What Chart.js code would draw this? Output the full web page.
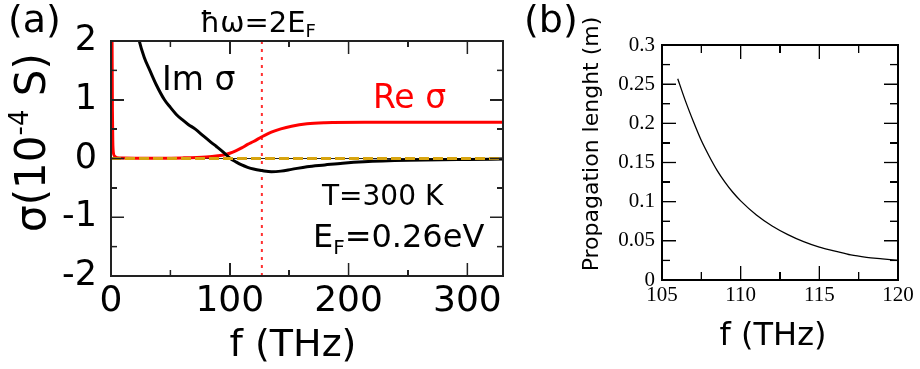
<!DOCTYPE html>
<html><head><meta charset="utf-8">
<script src="https://cdn.jsdelivr.net/npm/chart.js@4/dist/chart.umd.min.js"></script>
<style>html,body{margin:0;padding:0;background:#fff;overflow:hidden;width:920px;height:369px;position:relative}canvas{position:absolute;top:0}</style>
</head><body>
<canvas id="ca" width="515" height="369" style="left:0"></canvas>
<canvas id="cb" width="405" height="369" style="left:515px"></canvas>
<script>
// ---------- Panel (a): optical conductivity of graphene ----------
const reF = [0, 0.6, 0.9, 1.2, 1.5, 2, 3, 5, 10, 20, 40, 60, 80, 90, 96, 100, 105, 110, 115, 120, 127, 135, 143, 152, 165, 180, 213, 250, 300, 330];
const reS = [6, 4, 2.0, 0.8, 0.3, 0.1, 0.04, 0.015, 0.008, 0.006, 0.006, 0.01, 0.025, 0.045, 0.065, 0.09, 0.13, 0.18, 0.24, 0.29, 0.37, 0.45, 0.505, 0.55, 0.59, 0.607, 0.615, 0.615, 0.615, 0.615];
const imF = [15, 18, 20, 23.8, 28, 32.7, 38, 45, 50, 55, 60, 65, 71, 78, 84, 89, 95, 100.5, 105, 110, 115, 120, 127, 135, 143, 152, 165, 180, 195, 213, 250, 300, 330];
const imS = [3.2, 2.7, 2.4, 2.0, 1.72, 1.5, 1.26, 1.0, 0.87, 0.75, 0.66, 0.58, 0.5, 0.38, 0.28, 0.2, 0.1, 0.0, -0.055, -0.11, -0.15, -0.18, -0.205, -0.225, -0.215, -0.185, -0.14, -0.11, -0.08, -0.055, -0.03, -0.015, -0.01];
const zeroF = [0, 330];
const zeroS = [0, 0];
const fTwoEF = 127;          // f where ħω = 2E_F
const aXTicks = [0, 100, 200, 300];
const aYTicks = [-2, -1, 0, 1, 2];

// ---------- Panel (b): propagation length ----------
const plF = [106, 106.5, 107, 107.5, 108, 108.5, 109, 109.5, 110, 111, 112, 113, 114, 115, 116, 117, 118, 119, 120];
const plL = [0.257, 0.228, 0.202, 0.178, 0.158, 0.14, 0.125, 0.112, 0.101, 0.083, 0.069, 0.058, 0.049, 0.042, 0.037, 0.032, 0.029, 0.027, 0.025];
const bXTicks = [105, 110, 115, 120];
const bYTicks = [0, 0.05, 0.1, 0.15, 0.2, 0.25, 0.3];

const pts = (xs, ys) => xs.map((x, i) => ({x, y: ys[i]}));

function drawRich(ctx, parts, x, y, align, family, rot) {
  ctx.save();
  ctx.translate(x, y);
  if (rot) ctx.rotate(rot);
  let total = 0;
  parts.forEach(p => { ctx.font = p.size + 'px ' + family; p.w = ctx.measureText(p.t).width; total += p.w; });
  let cx = align === 'center' ? -total / 2 : (align === 'right' ? -total : 0);
  ctx.textAlign = 'left'; ctx.textBaseline = 'alphabetic';
  parts.forEach(p => {
    ctx.font = p.size + 'px ' + family;
    ctx.fillStyle = p.color || '#000';
    ctx.fillText(p.t, cx, p.dy || 0);
    cx += p.w;
  });
  ctx.restore();
}

// collects frame + inward tick rectangles (in canvas pixels) from the chart's own scales
function frameRects(chart, o) {
  const a = chart.chartArea, x = chart.scales.x, y = chart.scales.y, out = [];
  const tw = o.tickWidth, fw = o.frameWidth;
  const isMaj = (v, m, b) => Math.abs((v - b) / m - Math.round((v - b) / m)) < 1e-6;
  for (let i = 0; i < 1000; i++) {
    const v = x.min + i * o.xMinor;
    if (v > x.max + 1e-9) break;
    const len = isMaj(v, o.xMajor, x.min) ? o.major : o.minor;
    const px = x.getPixelForValue(v);
    out.push([px - tw / 2, a.bottom - len, tw, len], [px - tw / 2, a.top, tw, len]);
  }
  for (let i = 0; i < 1000; i++) {
    const v = y.min + i * o.yMinor;
    if (v > y.max + 1e-9) break;
    const len = isMaj(v, o.yMajor, y.min) ? o.major : o.minor;
    const py = y.getPixelForValue(v);
    out.push([a.left, py - tw / 2, len, tw], [a.right - len, py - tw / 2, len, tw]);
  }
  const W = a.right - a.left, H = a.bottom - a.top;
  out.push([a.left - fw / 2, a.top - fw / 2, W + fw, fw], [a.left - fw / 2, a.bottom - fw / 2, W + fw, fw],
           [a.left - fw / 2, a.top - fw / 2, fw, H + fw], [a.right - fw / 2, a.top - fw / 2, fw, H + fw]);
  return out;
}

function makeDecor(o) {
  return {
    id: 'decor',
    afterDraw(chart) {
      const ctx = chart.ctx;
      try {
        ctx.save();
        ctx.fillStyle = o.color;
        frameRects(chart, o).forEach(r => ctx.fillRect(r[0], r[1], r[2], r[3]));
        ctx.restore();
      } catch (e) {}
      try {
        const x = chart.scales.x, y = chart.scales.y;
        o.items.forEach(it => {
          const px = it.data ? x.getPixelForValue(it.x) : it.x;
          const py = it.data ? y.getPixelForValue(it.y) : it.y;
          drawRich(ctx, it.parts, px, py, it.align || 'left', it.family || "'DejaVu Sans'", it.rot || 0);
        });
      } catch (e) {}
    }
  };
}

// fallback: same frame/ticks as positioned elements on top of the canvas
function overlayFrame(chart, o) {
  const left = chart.canvas.offsetLeft, top = chart.canvas.offsetTop;
  frameRects(chart, o).forEach(r => {
    const d = document.createElement('div');
    d.style.cssText = 'position:absolute;pointer-events:none;background:' + o.color +
      ';left:' + (left + r[0]) + 'px;top:' + (top + r[1]) + 'px;width:' + r[2] + 'px;height:' + r[3] + 'px';
    document.body.appendChild(d);
  });
}

const base = () => ({
  responsive: false, animation: false, events: [],
  plugins: {legend: {display: false}, tooltip: {enabled: false}}
});

const decorA = {
  color: '#222', tickWidth: 1.5, frameWidth: 2, xMajor: 100, xMinor: 50, yMajor: 1, yMinor: 0.5, major: 13, minor: 6,
  items: [
    {data: true, x: 43, y: 1.166, parts: [{t: 'Im σ', size: 33}]},
    {data: true, x: 220.5, y: 0.86, parts: [{t: 'Re σ', size: 33, color: '#ff0000'}]},
    {data: true, x: 177.6, y: -0.79, parts: [{t: 'T=300 K', size: 28}]},
    {data: true, x: 170, y: -1.506, parts: [{t: 'E', size: 32}, {t: 'F', size: 20, dy: 7}, {t: '=0.26eV', size: 32}]},
    {x: 200, y: 32, parts: [{t: 'ħω=2E', size: 29}, {t: 'F', size: 18, dy: 5}]},
    {x: 8, y: 32, parts: [{t: '(a)', size: 38}]},
    {x: 293, y: 356, align: 'center', parts: [{t: 'f (THz)', size: 38}]},
    {x: 44.5, y: 142.5, align: 'center', rot: -Math.PI / 2, parts: [{t: 'σ(10', size: 42}, {t: '-4', size: 26, dy: -17}, {t: ' S)', size: 42}]}
  ]
};
const decorB = {
  color: '#000', tickWidth: 1.3, frameWidth: 1.6, xMajor: 5, xMinor: 2.5, yMajor: 0.05, yMinor: 0.025, major: 14, minor: 8,
  items: [
    {x: 9, y: 32, parts: [{t: '(b)', size: 38}]},
    {x: 258, y: 345, align: 'center', parts: [{t: 'f (THz)', size: 32}]},
    {x: 83, y: 144, align: 'center', rot: -Math.PI / 2, parts: [{t: 'Propagation lenght (m)', size: 22}]}
  ]
};

const chartA = new Chart(document.getElementById('ca'), {
  type: 'scatter',
  data: {datasets: [
    {label: 'zero', data: pts(zeroF, zeroS), showLine: true, borderColor: '#d8a510', borderWidth: 3, borderDash: [10, 4], pointRadius: 0, order: 0},
    {label: 'Im σ', data: pts(imF, imS), showLine: true, borderColor: '#000', borderWidth: 3, pointRadius: 0, cubicInterpolationMode: 'monotone', order: 1},
    {label: 'Re σ', data: pts(reF, reS), showLine: true, borderColor: '#ff0000', borderWidth: 3, pointRadius: 0, cubicInterpolationMode: 'monotone', order: 2},
    {label: 'zero-b', data: pts(zeroF, zeroS), showLine: true, borderColor: '#222', borderWidth: 1.2, pointRadius: 0, order: 3},
    {label: '2EF', data: [{x: fTwoEF, y: -2}, {x: fTwoEF, y: 2}], showLine: true, borderColor: '#ff3030', borderWidth: 2, borderDash: [3, 5], pointRadius: 0, order: 4}
  ]},
  options: Object.assign(base(), {
    layout: {padding: {left: 0, top: 41, right: 12, bottom: 0}},
    scales: {
      x: {type: 'linear', position: 'bottom', min: 0, max: 330, afterFit(s) { s.height = 93; },
        afterBuildTicks(s) { s.ticks = aXTicks.map(v => ({value: v})); },
        grid: {display: false, drawTicks: false}, border: {display: false},
        ticks: {padding: 4, color: '#000', maxRotation: 0, autoSkip: false, font: {family: "'DejaVu Sans'", size: 36}, callback: v => String(v)}},
      y: {type: 'linear', position: 'left', min: -2, max: 2, afterFit(s) { s.width = 111; },
        afterBuildTicks(s) { s.ticks = aYTicks.map(v => ({value: v})); },
        grid: {display: false, drawTicks: false}, border: {display: false},
        ticks: {padding: 14, color: '#000', font: {family: "'DejaVu Sans'", size: 35}, callback: v => String(v)}}
    }
  }),
  plugins: [makeDecor(decorA)]
});

const chartB = new Chart(document.getElementById('cb'), {
  type: 'scatter',
  data: {datasets: [
    {label: 'Propagation length', data: pts(plF, plL), showLine: true, borderColor: '#000', borderWidth: 1.3, pointRadius: 0, cubicInterpolationMode: 'monotone'}
  ]},
  options: Object.assign(base(), {
    layout: {padding: {left: 0, top: 45, right: 22, bottom: 0}},
    scales: {
      x: {type: 'linear', position: 'bottom', min: 105, max: 120, afterFit(s) { s.height = 89; },
        afterBuildTicks(s) { s.ticks = bXTicks.map(v => ({value: v})); },
        grid: {display: false, drawTicks: false}, border: {display: false},
        ticks: {padding: 3, color: '#000', maxRotation: 0, autoSkip: false, font: {family: "'Liberation Serif'", size: 21}, callback: v => String(v)}},
      y: {type: 'linear', position: 'left', min: 0, max: 0.3, afterFit(s) { s.width = 147; },
        afterBuildTicks(s) { s.ticks = bYTicks.map(v => ({value: v})); },
        grid: {display: false, drawTicks: false}, border: {display: false},
        ticks: {padding: 7, color: '#000', font: {family: "'Liberation Serif'", size: 21}, callback: v => String(v)}}
    }
  }),
  plugins: [makeDecor(decorB)]
});

try { overlayFrame(chartA, decorA); } catch (e) {}
try { overlayFrame(chartB, decorB); } catch (e) {}
</script>
</body></html>
